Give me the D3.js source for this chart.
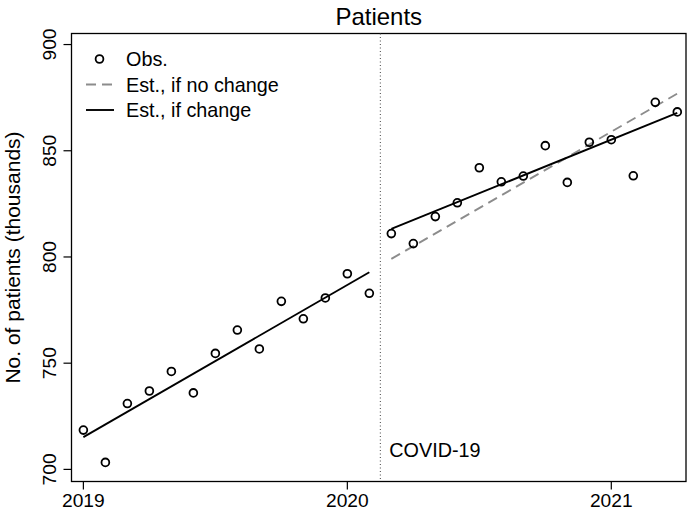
<!DOCTYPE html>
<html>
<head>
<meta charset="utf-8">
<script src="https://cdn.jsdelivr.net/npm/d3@7"></script>
<style>
  body { margin: 0; background: #fff; }
  svg { display: block; font-family: "Liberation Sans", Arial, sans-serif; }
</style>
</head>
<body>
<svg id="chart" width="691" height="514"></svg>
<script>
// ---- data ----
const months = ["2019-01","2019-02","2019-03","2019-04","2019-05","2019-06","2019-07","2019-08","2019-09","2019-10","2019-11","2019-12",
                "2020-01","2020-02","2020-03","2020-04","2020-05","2020-06","2020-07","2020-08","2020-09","2020-10","2020-11","2020-12",
                "2021-01","2021-02","2021-03","2021-04"];
const observed = [718.5, 703.3, 731.0, 736.9, 746.1, 736.0, 754.6, 765.6, 756.7, 779.1, 770.9, 780.7,
                  792.1, 782.9, 811.0, 806.3, 819.0, 825.5, 842.0, 835.4, 838.1, 852.4, 835.1, 854.0,
                  855.2, 838.2, 872.8, 868.3];
const fitPreMonths = ["2019-01", "2020-02"];
const fitPreValues = [715.2, 792.8];
const fitPostMonths = ["2020-03", "2021-04"];
const fitPostValues = [813.2, 867.8];
const noChangeMonths = ["2020-03", "2021-04"];
const noChangeValues = [799.1, 876.9];
const interventionMonth = "2020-02.5";   // mid Feb/Mar 2020
const yTicks = [700, 750, 800, 850, 900];
const xTicks = [2019, 2020, 2021];
const legendLabels = ["Obs.", "Est., if no change", "Est., if change"];
const titleText = "Patients";
const yTitle = "No. of patients (thousands)";
const annotation = "COVID-19";

// ---- helpers ----
function decYear(s) {
  const [y, m] = s.split("-");
  return +y + (parseFloat(m) - 1) / 12;
}

const svg = d3.select("#chart");
const L = 71.5, R = 686, T = 33.5, B = 481.5;
const FS = 19.8;

const x = d3.scaleLinear().domain([2018.955, 2021.283]).range([L, R]);
const y = d3.scaleLinear().domain([694.3, 905.2]).range([B, T]);

// title
svg.append("text").attr("x", (L + R) / 2).attr("y", 25)
  .attr("text-anchor", "middle").attr("font-size", 24).attr("fill", "#000")
  .text(titleText);

// frame
svg.append("rect").attr("x", L).attr("y", T).attr("width", R - L).attr("height", B - T)
  .attr("fill", "none").attr("stroke", "#000").attr("stroke-width", 1.3);

// y axis
const yAxis = svg.append("g");
yTicks.forEach(v => {
  yAxis.append("line").attr("x1", L - 8).attr("x2", L).attr("y1", y(v)).attr("y2", y(v))
    .attr("stroke", "#000").attr("stroke-width", 1.2);
  yAxis.append("text")
    .attr("transform", `translate(${L - 16},${y(v)}) rotate(-90)`)
    .attr("text-anchor", "middle").attr("font-size", 19.2).attr("fill", "#000")
    .text(v);
});
// x axis
const xAxis = svg.append("g");
xTicks.forEach(v => {
  xAxis.append("line").attr("x1", x(v)).attr("x2", x(v)).attr("y1", B).attr("y2", B + 8)
    .attr("stroke", "#000").attr("stroke-width", 1.2);
  xAxis.append("text").attr("x", x(v)).attr("y", B + 25)
    .attr("text-anchor", "middle").attr("font-size", 19.2).attr("fill", "#000")
    .text(v);
});

// y title
svg.append("text")
  .attr("transform", `translate(20,${(T + B) / 2}) rotate(-90)`)
  .attr("text-anchor", "middle").attr("font-size", 21).attr("fill", "#000")
  .text(yTitle);

// intervention line
const xi = x(decYear(interventionMonth));
svg.append("line").attr("x1", xi).attr("x2", xi).attr("y1", T).attr("y2", B)
  .attr("stroke", "#444").attr("stroke-width", 1).attr("stroke-dasharray", "1,2.5");
svg.append("text").attr("x", xi + 9).attr("y", y(700) - 12)
  .attr("font-size", FS).attr("fill", "#000").text(annotation);

const line = d3.line().x(d => x(decYear(d[0]))).y(d => y(d[1]));

// no change (dashed)
svg.append("path").datum(d3.zip(noChangeMonths, noChangeValues)).attr("d", line)
  .attr("fill", "none").attr("stroke", "#8c8c8c").attr("stroke-width", 1.9)
  .attr("stroke-dasharray", "10,6");
// fits
svg.append("path").datum(d3.zip(fitPreMonths, fitPreValues)).attr("d", line)
  .attr("fill", "none").attr("stroke", "#000").attr("stroke-width", 1.9);
svg.append("path").datum(d3.zip(fitPostMonths, fitPostValues)).attr("d", line)
  .attr("fill", "none").attr("stroke", "#000").attr("stroke-width", 1.9);

// observed points
svg.append("g").selectAll("circle").data(d3.zip(months, observed)).join("circle")
  .attr("cx", d => x(decYear(d[0]))).attr("cy", d => y(d[1])).attr("r", 3.9)
  .attr("fill", "none").attr("stroke", "#000").attr("stroke-width", 1.8);

// legend
const lg = svg.append("g");
const lx = 86, ltx = 126, ly0 = 59, ldy = 25.5;
lg.append("circle").attr("cx", 99.5).attr("cy", ly0).attr("r", 3.9)
  .attr("fill", "none").attr("stroke", "#000").attr("stroke-width", 1.8);
lg.append("line").attr("x1", lx).attr("x2", lx + 28).attr("y1", ly0 + ldy).attr("y2", ly0 + ldy)
  .attr("stroke", "#8c8c8c").attr("stroke-width", 1.9).attr("stroke-dasharray", "10,6");
lg.append("line").attr("x1", lx).attr("x2", lx + 28).attr("y1", ly0 + 2 * ldy).attr("y2", ly0 + 2 * ldy)
  .attr("stroke", "#000").attr("stroke-width", 1.9);
legendLabels.forEach((t, i) => {
  lg.append("text").attr("x", ltx).attr("y", ly0 + i * ldy + 7)
    .attr("font-size", FS).attr("fill", "#000").text(t);
});
</script>
</body>
</html>
